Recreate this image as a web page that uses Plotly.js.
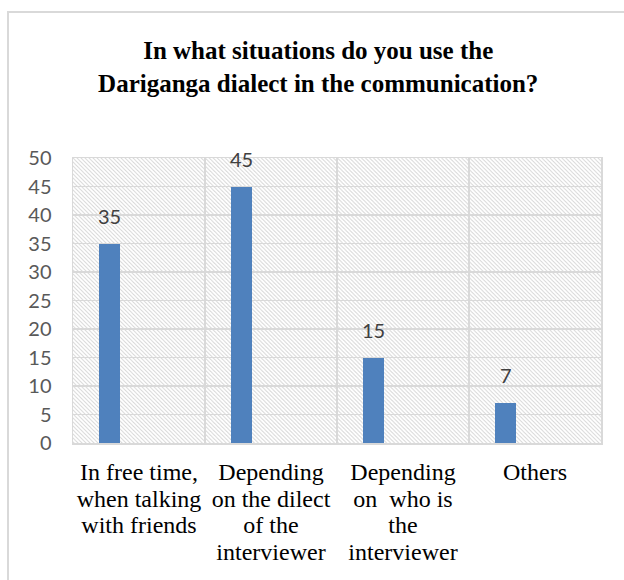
<!DOCTYPE html>
<html>
<head>
<meta charset="utf-8">
<script src="https://cdn.plot.ly/plotly-3.0.1.min.js"></script>
<style>
  html, body { margin: 0; padding: 0; background: #fff; }
  #frame { position: absolute; left: 7px; top: 11px; width: 617px; height: 569px;
           border-left: 2px solid #d9d9d9; border-top: 2px solid #d9d9d9; box-sizing: border-box; }
  #chart { position: absolute; left: 0; top: 0; width: 624px; height: 580px; }
</style>
</head>
<body>
<div id="frame"></div>
<div id="chart"></div>
<script>
// ---- data ----
const categories = [
  "In free time,<br>when talking<br>with friends",
  "Depending<br>on the dilect<br>of the<br>interviewer",
  "Depending<br>on  who is<br>the<br>interviewer",
  "Others"
];
const values = [35, 45, 15, 7];
const valueLabels = ["35", "45", "15", "7"];
const yTickValues = [0, 5, 10, 15, 20, 25, 30, 35, 40, 45, 50];

const titleText = "In what situations do you use the<br>Dariganga dialect in the communication?";

// hatched background pattern image (plot area decoration)
const hatchSvg =
  '<svg xmlns="http://www.w3.org/2000/svg" width="527" height="285">' +
  '<defs><pattern id="p" patternUnits="userSpaceOnUse" width="4" height="4">' +
  '<path d="M-1,-1 L5,5 M-1,3 L1,5 M3,-1 L5,1" stroke="#d9d9d9" stroke-width="1"/>' +
  '</pattern></defs><rect width="527" height="285" fill="#fff"/><rect width="527" height="285" fill="url(#p)"/></svg>';
const hatchUri = "data:image/svg+xml;base64," + btoa(hatchSvg);

const trace = {
  type: "bar",
  x: categories,
  y: values,
  width: 0.155,
  offset: -0.3,
  marker: { color: "#4f81bd" },
  hoverinfo: "skip",
  showlegend: false
};

const annotations = categories.map((c, i) => ({
  x: c, y: values[i], text: valueLabels[i],
  xref: "x", yref: "y",
  xshift: -29.5, yshift: 14,
  yanchor: "bottom", showarrow: false,
  font: { family: "Lato, 'Open Sans', sans-serif", size: 20, color: "#404040" }
}));

const layout = {
  width: 624, height: 580,
  margin: { l: 73, r: 23, t: 158, b: 137 },
  paper_bgcolor: "rgba(0,0,0,0)",
  plot_bgcolor: "rgba(0,0,0,0)",
  title: {
    text: titleText,
    x: 0.51, xref: "container", xanchor: "center",
    y: 0.898, yref: "container", yanchor: "top",
    font: { family: "'Liberation Serif', 'Times New Roman', serif", size: 25, color: "#000", weight: "bold" }
  },
  xaxis: {
    type: "category",
    tickson: "boundaries",
    tickangle: 0,
    showgrid: true, gridcolor: "#d9d9d9", gridwidth: 1.5,
    showline: true, linecolor: "#d9d9d9", linewidth: 1.5, mirror: true,
    ticks: "", ticklabelstandoff: 7,
    tickfont: { family: "'Liberation Serif', 'Times New Roman', serif", size: 24, color: "#000" },
    fixedrange: true
  },
  yaxis: {
    range: [0, 50],
    tickvals: yTickValues,
    showgrid: true, gridcolor: "#d9d9d9", gridwidth: 1.5,
    showline: true, linecolor: "#d9d9d9", linewidth: 1.5, mirror: true,
    zeroline: false,
    ticks: "", ticklabelstandoff: 16,
    tickfont: { family: "Lato, 'Open Sans', sans-serif", size: 20, color: "#595959" },
    fixedrange: true
  },
  images: [{
    source: hatchUri,
    xref: "paper", yref: "paper",
    x: 0, y: 1, sizex: 1, sizey: 1,
    xanchor: "left", yanchor: "top",
    sizing: "stretch", layer: "below"
  }],
  annotations: annotations,
  bargap: 0
};

Plotly.newPlot("chart", [trace], layout, { displayModeBar: false, staticPlot: true }).then(gd => {
  // tighten line spacing of the multi-line category labels (Word-like single spacing)
  try {
    gd.querySelectorAll(".xtick text").forEach(t => {
      t.querySelectorAll("tspan.line").forEach((ts, i) => {
        ts.setAttribute("dy", (i * 1.1) + "em");
      });
    });
  } catch (e) {}
});
</script>
</body>
</html>
